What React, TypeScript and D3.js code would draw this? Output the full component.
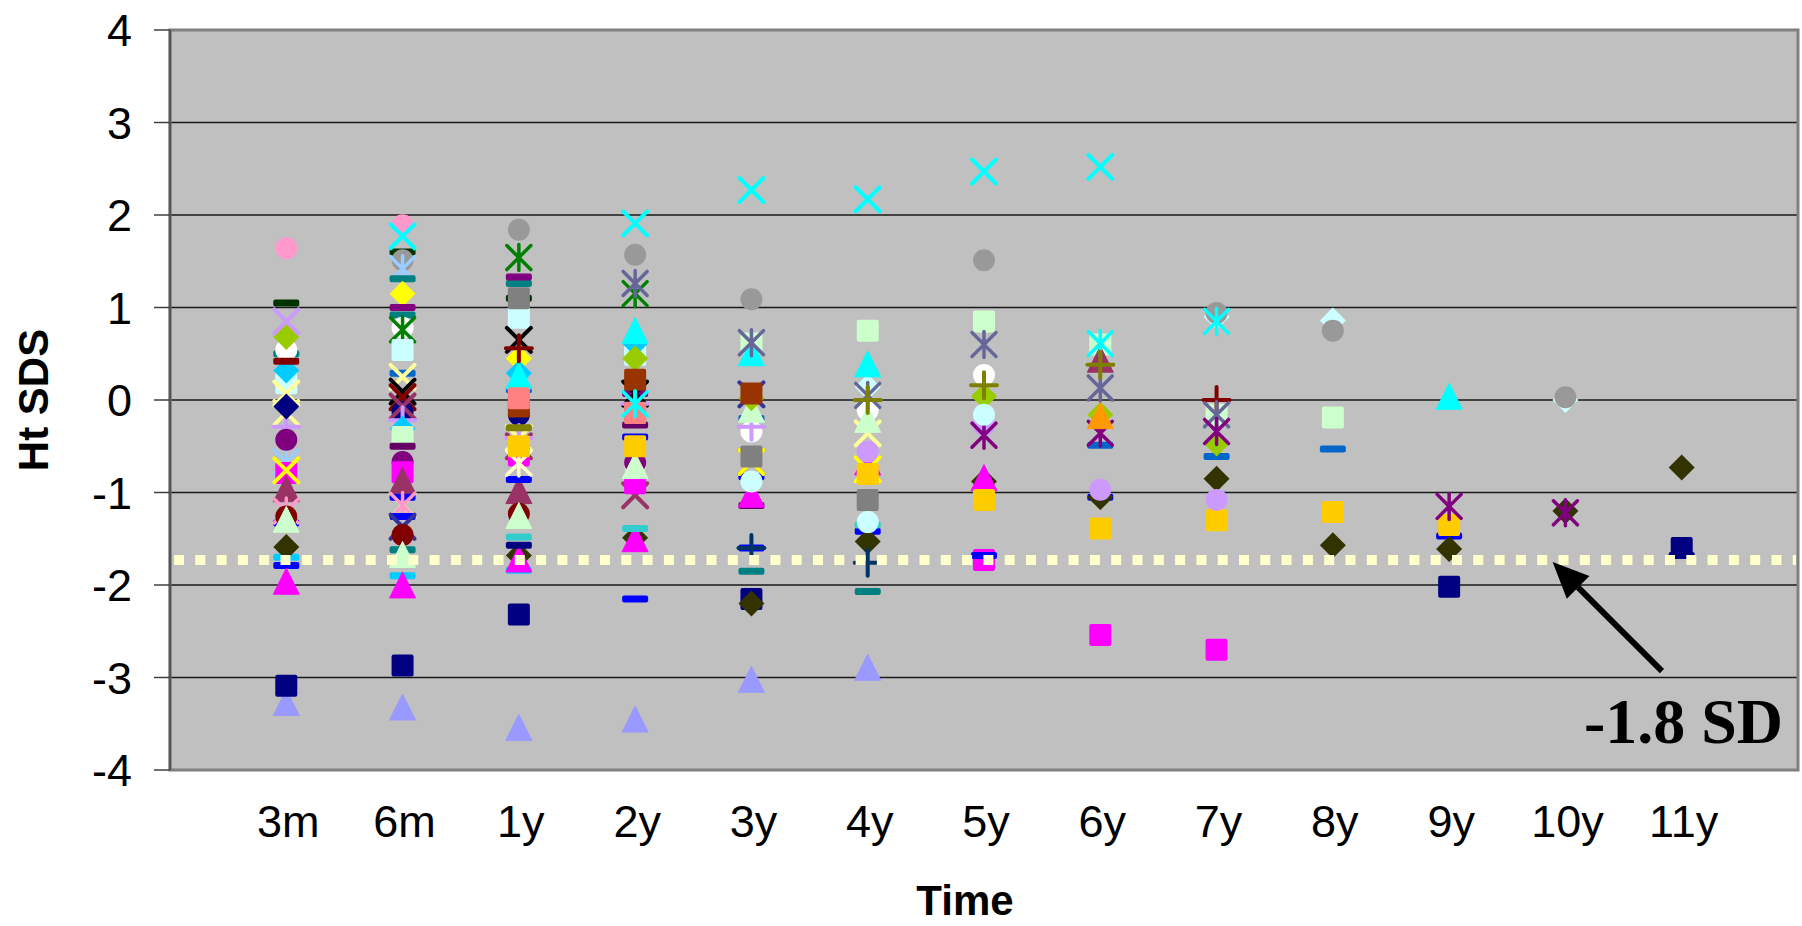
import React from "react";
import * as d3 from "d3";

const _ = null;

// Time points (categories) and y-axis ticks
const timeLabels = ["3m", "6m", "1y", "2y", "3y", "4y", "5y", "6y", "7y", "8y", "9y", "10y", "11y"];
const yTicks = [-4, -3, -2, -1, 0, 1, 2, 3, 4];
const cutoffSDS = -1.73;
const cutoffLabel = "-1.8 SD";

// Series values (Ht SDS), one entry per time point
const pinkCircle = [1.64, 1.89, _, _, _, _, _, _, _, _, _, _, _];
const darkGreenDash = [1.05, 1.6, 1.1, _, _, _, _, _, _, _, _, _, _];
const grayCircle = [_, 1.51, 1.84, 1.57, 1.09, _, 1.51, _, 0.94, 0.75, _, 0.03, _];
const lightBlueStar = [-0.67, 1.42, _, _, _, _, _, _, _, _, _, _, _];
const tealDash = [0.5, 1.31, 1.26, _, -1.85, -2.07, _, _, _, _, _, _, _];
const yellowDiamond = [_, 1.15, 0.45, _, _, _, _, _, _, _, _, _, _];
const purpleDash = [_, 1.0, 1.33, 0.07, _, _, _, _, _, _, _, _, _];
const tealDash2 = [_, 0.92, _, _, _, _, _, _, _, _, _, _, _];
const tealDash3 = [_, -1.62, _, _, _, _, _, _, _, _, _, _, _];
const whiteCircle = [0.54, 0.78, _, -0.7, -0.34, -0.11, 0.27, _, _, _, _, _, _];
const greenStar = [_, 0.76, 1.54, 1.15, _, _, _, _, _, _, _, _, _];
const lightCyanSq = [0.18, 0.54, 0.89, 0.49, _, _, _, _, _, _, _, _, _];
const midBlueDash = [_, 0.29, 0.11, _, -0.2, _, _, -0.49, -0.61, -0.53, _, _, _];
const lightYellowX = [0.07, 0.25, -0.41, _, _, -0.36, _, _, _, _, _, _, _];
const lightYellowX2 = [-0.14, -1.14, _, _, _, _, _, _, _, _, _, _, _];
const blackX = [_, 0.09, 0.65, 0.07, _, _, _, _, _, _, _, _, _];
const darkRedX = [_, 0.03, _, _, _, _, _, _, _, _, _, _, _];
const plumX = [_, -0.07, -0.5, -1.03, -0.67, _, _, _, _, _, _, _, _];
const navyCircle = [_, -0.13, -0.16, _, _, _, _, _, _, _, _, _, _];
const lavenderPlus = [-0.29, -0.22, -0.41, -0.04, -0.29, _, _, _, _, _, _, _, _];
const skyBlueDiamond = [0.32, -0.31, 0.29, 0.61, _, _, _, _, _, _, _, _, _];
const lightGreenSq = [_, -0.4, _, _, 0.61, 0.75, 0.85, 0.6, -0.16, -0.19, _, _, _];
const darkPurpleDash = [_, -0.5, _, -0.27, -1.14, _, _, _, _, _, _, _, _];
const purpleCircle = [-0.43, -0.67, _, -0.68, _, _, _, _, _, _, _, _, _];
const magentaSq = [-0.79, -0.78, -0.6, -0.9, _, _, -1.73, -2.54, -2.7, _, _, _, _];
const plumTri = [-0.97, -0.88, -0.99, _, _, _, _, 0.43, _, _, _, _, _];
const blueDash = [-1.33, -1.05, -0.86, -0.4, -0.83, -1.42, -1.68, -1.05, _, _, -1.47, _, _];
const pinkStar = [-1.2, -1.14, _, _, _, _, _, _, _, _, _, _, _];
const blueDash2 = [-1.79, -1.26, _, -2.15, -1.6, _, _, _, _, _, _, _, _];
const indigoX = [_, -1.37, _, _, 0.06, _, _, _, _, _, _, _, _];
const darkRedCircle = [-1.26, -1.46, -1.23, _, _, _, _, _, _, _, _, _, _];
const lightGreenTri = [-1.3, -1.68, -1.26, -0.72, -0.11, -0.22, _, _, _, _, _, _, _];
const skyBlueDash = [-1.7, -1.9, -1.84, _, _, _, _, _, _, _, _, _, _];
const oliveDiamond = [-1.59, _, -1.68, -1.49, -2.2, -1.53, -0.88, -1.05, -0.85, -1.57, -1.61, -1.2, -0.73];
const magentaTri = [-1.97, -2.01, -1.73, -1.51, -1.03, -0.68, -0.85, _, _, _, _, _, _];
const periwinkleTri = [-3.28, -3.33, -3.55, -3.46, -3.03, -2.9, _, _, _, _, _, _, _];
const navySq = [-3.09, -2.87, -2.32, _, -2.15, _, _, _, _, _, -2.02, _, -1.6];
const navyDiamond = [-0.07, _, _, _, _, _, _, _, _, _, _, _, _];
const limeDiamond = [0.68, _, _, 0.45, 0.02, _, 0.04, -0.16, -0.47, _, _, _, _];
const darkRedDash = [0.42, _, _, _, _, _, _, _, _, _, _, _, _];
const lavenderX = [0.85, _, _, _, _, _, _, _, _, _, _, _, _];
const yellowX = [-0.76, _, _, _, -0.67, -0.75, _, _, _, _, _, _, _];
const cyanTri = [_, _, 0.25, 0.74, 0.5, 0.38, _, _, _, _, 0.03, _, _];
const brownSq = [_, _, -0.07, 0.22, 0.07, _, _, _, _, _, _, _, _];
const graySq = [_, _, 1.1, -0.14, -0.61, -1.08, _, _, _, _, _, _, _];
const darkRedPlus = [_, _, 0.56, _, _, _, _, _, 0.0, _, _, _, _];
const salmonSq = [_, _, 0.02, -0.14, _, _, _, _, _, _, _, _, _];
const oliveDash = [_, _, -0.3, _, _, _, _, _, _, _, _, _, _];
const ivoryStar = [_, _, -0.68, _, _, _, _, _, _, _, _, _, _];
const turquoiseDash = [_, _, -1.48, -1.39, _, -1.35, _, _, _, _, _, _, _];
const navyDash = [_, _, -1.57, _, _, _, _, _, _, _, _, _, -1.68];
const navyPlus = [_, _, _, _, -1.6, -1.76, _, _, _, _, _, _, _];
const goldSq = [_, _, -0.5, -0.5, _, -0.8, -1.08, -1.39, -1.3, -1.21, -1.35, _, _];
const slateStar = [_, _, _, 1.26, 0.62, 0.05, 0.6, 0.13, -0.16, _, _, _, _];
const cyanStar = [_, _, _, -0.04, _, _, _, 0.61, 0.85, _, _, _, _];
const olivePlus = [_, _, _, _, _, 0.0, 0.16, 0.38, _, _, _, _, _];
const lavenderCircle = [_, _, _, _, _, -0.56, -0.27, -0.97, -1.08, _, _, _, _];
const purpleStar = [_, _, _, _, _, _, -0.38, -0.36, -0.34, _, -1.15, -1.22, _];
const lightCyanCircle = [_, _, _, _, -0.88, -1.32, -0.16, _, _, _, _, _, _];
const lightCyanDiamond = [_, _, _, _, _, 0.14, _, _, 0.9, 0.86, _, 0.0, _];
const orangeTri = [_, _, _, _, _, _, _, -0.18, _, _, _, _, _];
const cyanX = [_, 1.77, _, 1.91, 2.27, 2.17, 2.47, 2.52, _, _, _, _, _];

type Shape = "square" | "diamond" | "triangle" | "circle" | "x" | "star" | "plus" | "dash";

const seriesTable: { values: (number | null)[]; shape: Shape; color: string }[] = [
  { values: lightCyanDiamond, shape: "diamond", color: "#CCFFFF" },
  { values: periwinkleTri, shape: "triangle", color: "#9999FF" },
  { values: navySq, shape: "square", color: "#000080" },
  { values: pinkCircle, shape: "circle", color: "#FF99CC" },
  { values: darkGreenDash, shape: "dash", color: "#003300" },
  { values: grayCircle, shape: "circle", color: "#999999" },
  { values: lightBlueStar, shape: "star", color: "#99CCFF" },
  { values: tealDash, shape: "dash", color: "#008080" },
  { values: yellowDiamond, shape: "diamond", color: "#FFFF00" },
  { values: purpleDash, shape: "dash", color: "#800080" },
  { values: tealDash2, shape: "dash", color: "#008080" },
  { values: tealDash3, shape: "dash", color: "#008080" },
  { values: whiteCircle, shape: "circle", color: "#FFFFFF" },
  { values: greenStar, shape: "star", color: "#008000" },
  { values: lightCyanSq, shape: "square", color: "#CCFFFF" },
  { values: midBlueDash, shape: "dash", color: "#0066CC" },
  { values: lightYellowX, shape: "x", color: "#FFFF99" },
  { values: lightYellowX2, shape: "x", color: "#FFFF99" },
  { values: blackX, shape: "x", color: "#000000" },
  { values: darkRedX, shape: "x", color: "#800000" },
  { values: navyCircle, shape: "circle", color: "#000080" },
  { values: plumX, shape: "x", color: "#993366" },
  { values: lavenderPlus, shape: "plus", color: "#CC99FF" },
  { values: skyBlueDiamond, shape: "diamond", color: "#00CCFF" },
  { values: lightGreenSq, shape: "square", color: "#CCFFCC" },
  { values: darkPurpleDash, shape: "dash", color: "#660066" },
  { values: purpleCircle, shape: "circle", color: "#800080" },
  { values: magentaSq, shape: "square", color: "#FF00FF" },
  { values: plumTri, shape: "triangle", color: "#993366" },
  { values: blueDash, shape: "dash", color: "#0000FF" },
  { values: pinkStar, shape: "star", color: "#FF99CC" },
  { values: blueDash2, shape: "dash", color: "#0000FF" },
  { values: indigoX, shape: "x", color: "#333399" },
  { values: darkRedCircle, shape: "circle", color: "#800000" },
  { values: lightGreenTri, shape: "triangle", color: "#CCFFCC" },
  { values: skyBlueDash, shape: "dash", color: "#00CCFF" },
  { values: oliveDiamond, shape: "diamond", color: "#333300" },
  { values: magentaTri, shape: "triangle", color: "#FF00FF" },
  { values: navyDiamond, shape: "diamond", color: "#000080" },
  { values: limeDiamond, shape: "diamond", color: "#99CC00" },
  { values: darkRedDash, shape: "dash", color: "#800000" },
  { values: lavenderX, shape: "x", color: "#CC99FF" },
  { values: yellowX, shape: "x", color: "#FFFF00" },
  { values: cyanTri, shape: "triangle", color: "#00FFFF" },
  { values: brownSq, shape: "square", color: "#993300" },
  { values: graySq, shape: "square", color: "#808080" },
  { values: darkRedPlus, shape: "plus", color: "#800000" },
  { values: salmonSq, shape: "square", color: "#FF8080" },
  { values: oliveDash, shape: "dash", color: "#808000" },
  { values: ivoryStar, shape: "star", color: "#FFFFCC" },
  { values: turquoiseDash, shape: "dash", color: "#33CCCC" },
  { values: navyDash, shape: "dash", color: "#000080" },
  { values: navyPlus, shape: "plus", color: "#003366" },
  { values: goldSq, shape: "square", color: "#FFCC00" },
  { values: slateStar, shape: "star", color: "#666699" },
  { values: cyanStar, shape: "star", color: "#00FFFF" },
  { values: olivePlus, shape: "plus", color: "#808000" },
  { values: lavenderCircle, shape: "circle", color: "#CC99FF" },
  { values: purpleStar, shape: "star", color: "#800080" },
  { values: lightCyanCircle, shape: "circle", color: "#CCFFFF" },
  { values: orangeTri, shape: "triangle", color: "#FF9900" },
  { values: cyanX, shape: "x", color: "#00FFFF" },
];

const W = 1802;
const H = 926;
const plot = { left: 170, right: 1798, top: 30, bottom: 770 };

function Marker({ shape, color, cx, cy }: { shape: Shape; color: string; cx: number; cy: number }) {
  const s = 12;
  switch (shape) {
    case "square":
      return <rect x={cx - 11} y={cy - 11} width={22} height={22} rx={2} fill={color} />;
    case "diamond":
      return <path d={`M${cx},${cy - 13}L${cx + 13},${cy}L${cx},${cy + 13}L${cx - 13},${cy}Z`} fill={color} />;
    case "triangle":
      return (
        <path
          d={`M${cx},${cy - 14}L${cx + 13},${cy + 12}L${cx - 13},${cy + 12}Z`}
          fill={color}
          stroke={color}
          strokeWidth={1}
          strokeLinejoin="round"
        />
      );
    case "circle":
      return <circle cx={cx} cy={cy} r={11} fill={color} />;
    case "x":
      return (
        <path
          d={`M${cx - s},${cy - s}L${cx + s},${cy + s}M${cx + s},${cy - s}L${cx - s},${cy + s}`}
          stroke={color}
          strokeWidth={4}
          strokeLinecap="round"
          fill="none"
        />
      );
    case "star":
      return (
        <path
          d={`M${cx - s},${cy - s}L${cx + s},${cy + s}M${cx + s},${cy - s}L${cx - s},${cy + s}M${cx},${cy - s - 1}L${cx},${cy + s + 1}`}
          stroke={color}
          strokeWidth={3.5}
          strokeLinecap="round"
          fill="none"
        />
      );
    case "plus":
      return (
        <path
          d={`M${cx - s - 1},${cy}L${cx + s + 1},${cy}M${cx},${cy - s - 1}L${cx},${cy + s + 1}`}
          stroke={color}
          strokeWidth={4}
          strokeLinecap="round"
          fill="none"
        />
      );
    case "dash":
      return <rect x={cx - 13} y={cy - 3.5} width={26} height={7} rx={2} fill={color} />;
  }
  return null;
}

export default function App() {
  const x = d3.scaleLinear().domain([0, timeLabels.length + 1]).range([plot.left, plot.right]);
  const y = d3.scaleLinear().domain([-4, 4]).range([plot.bottom, plot.top]);

  const gridVals = yTicks.filter((v) => v > -4 && v < 4);

  // arrow geometry (pointing to the cut-off line)
  const tipX = x(11.89);
  const tipY = y(-1.75);
  const tailX = x(12.83);
  const tailY = y(-2.93);
  const ang = Math.atan2(tailY - tipY, tailX - tipX);
  const headLen = 36;
  const headHalf = 16;
  const bx = tipX + headLen * Math.cos(ang);
  const by = tipY + headLen * Math.sin(ang);
  const px = -Math.sin(ang);
  const py = Math.cos(ang);

  const font = "'Liberation Sans', Arial, Helvetica, sans-serif";

  return (
    <svg
      width={W}
      height={H}
      style={{ position: "absolute", left: 0, top: 0, background: "#FFFFFF" }}
      fontFamily={font}
    >
      <rect x={0} y={0} width={W} height={H} fill="#FFFFFF" />
      {/* plot area */}
      <rect
        x={plot.left}
        y={plot.top}
        width={plot.right - plot.left}
        height={plot.bottom - plot.top}
        fill="#C0C0C0"
      />
      {/* gridlines */}
      {gridVals.map((v) => (
        <line key={v} x1={plot.left} x2={plot.right} y1={y(v)} y2={y(v)} stroke="#1a1a1a" strokeWidth={1.3} />
      ))}
      {/* plot border */}
      <rect
        x={plot.left}
        y={plot.top}
        width={plot.right - plot.left}
        height={plot.bottom - plot.top}
        fill="none"
        stroke="#808080"
        strokeWidth={3}
      />
      <line x1={plot.left} x2={plot.left} y1={plot.top} y2={plot.bottom} stroke="#555555" strokeWidth={2.5} />
      {/* y ticks and labels */}
      {yTicks.map((v) => (
        <g key={v}>
          <line x1={plot.left - 16} x2={plot.left} y1={y(v)} y2={y(v)} stroke="#404040" strokeWidth={1.5} />
          <text x={132} y={y(v)} dy="0.36em" textAnchor="end" fontSize={45} fill="#000">
            {v}
          </text>
        </g>
      ))}
      {/* x labels */}
      {timeLabels.map((t, i) => (
        <text key={t} x={x(i + 1) + 2} y={837} textAnchor="middle" fontSize={45} fill="#000">
          {t}
        </text>
      ))}
      {/* axis titles */}
      <text x={965} y={915} textAnchor="middle" fontSize={42} fontWeight="bold" fill="#000">
        Time
      </text>
      <text
        transform={`translate(48,${y(0)}) rotate(-90)`}
        textAnchor="middle"
        fontSize={42}
        fontWeight="bold"
        fill="#000"
      >
        Ht SDS
      </text>
      {/* series markers */}
      {seriesTable.map((s, si) => (
        <g key={si}>
          {s.values.map((v, i) =>
            v === null ? null : <Marker key={i} shape={s.shape} color={s.color} cx={x(i + 1)} cy={y(v)} />
          )}
        </g>
      ))}
      {/* -1.8 SD dotted line */}
      <line
        x1={plot.left + 2}
        x2={plot.right - 2}
        y1={y(cutoffSDS)}
        y2={y(cutoffSDS)}
        stroke="#FFFFCC"
        strokeWidth={10}
        strokeDasharray="10 11.3"
        strokeDashoffset={-2}
      />
      {/* arrow */}
      <line x1={tailX} y1={tailY} x2={bx} y2={by} stroke="#000" strokeWidth={6} />
      <path
        d={`M${tipX},${tipY}L${bx + headHalf * px},${by + headHalf * py}L${bx - headHalf * px},${by - headHalf * py}Z`}
        fill="#000"
      />
      <text
        x={1783}
        y={743}
        textAnchor="end"
        fontSize={64}
        fontWeight="bold"
        fontFamily="'Liberation Serif', 'Times New Roman', serif"
        fill="#000"
      >
        {cutoffLabel}
      </text>
    </svg>
  );
}
